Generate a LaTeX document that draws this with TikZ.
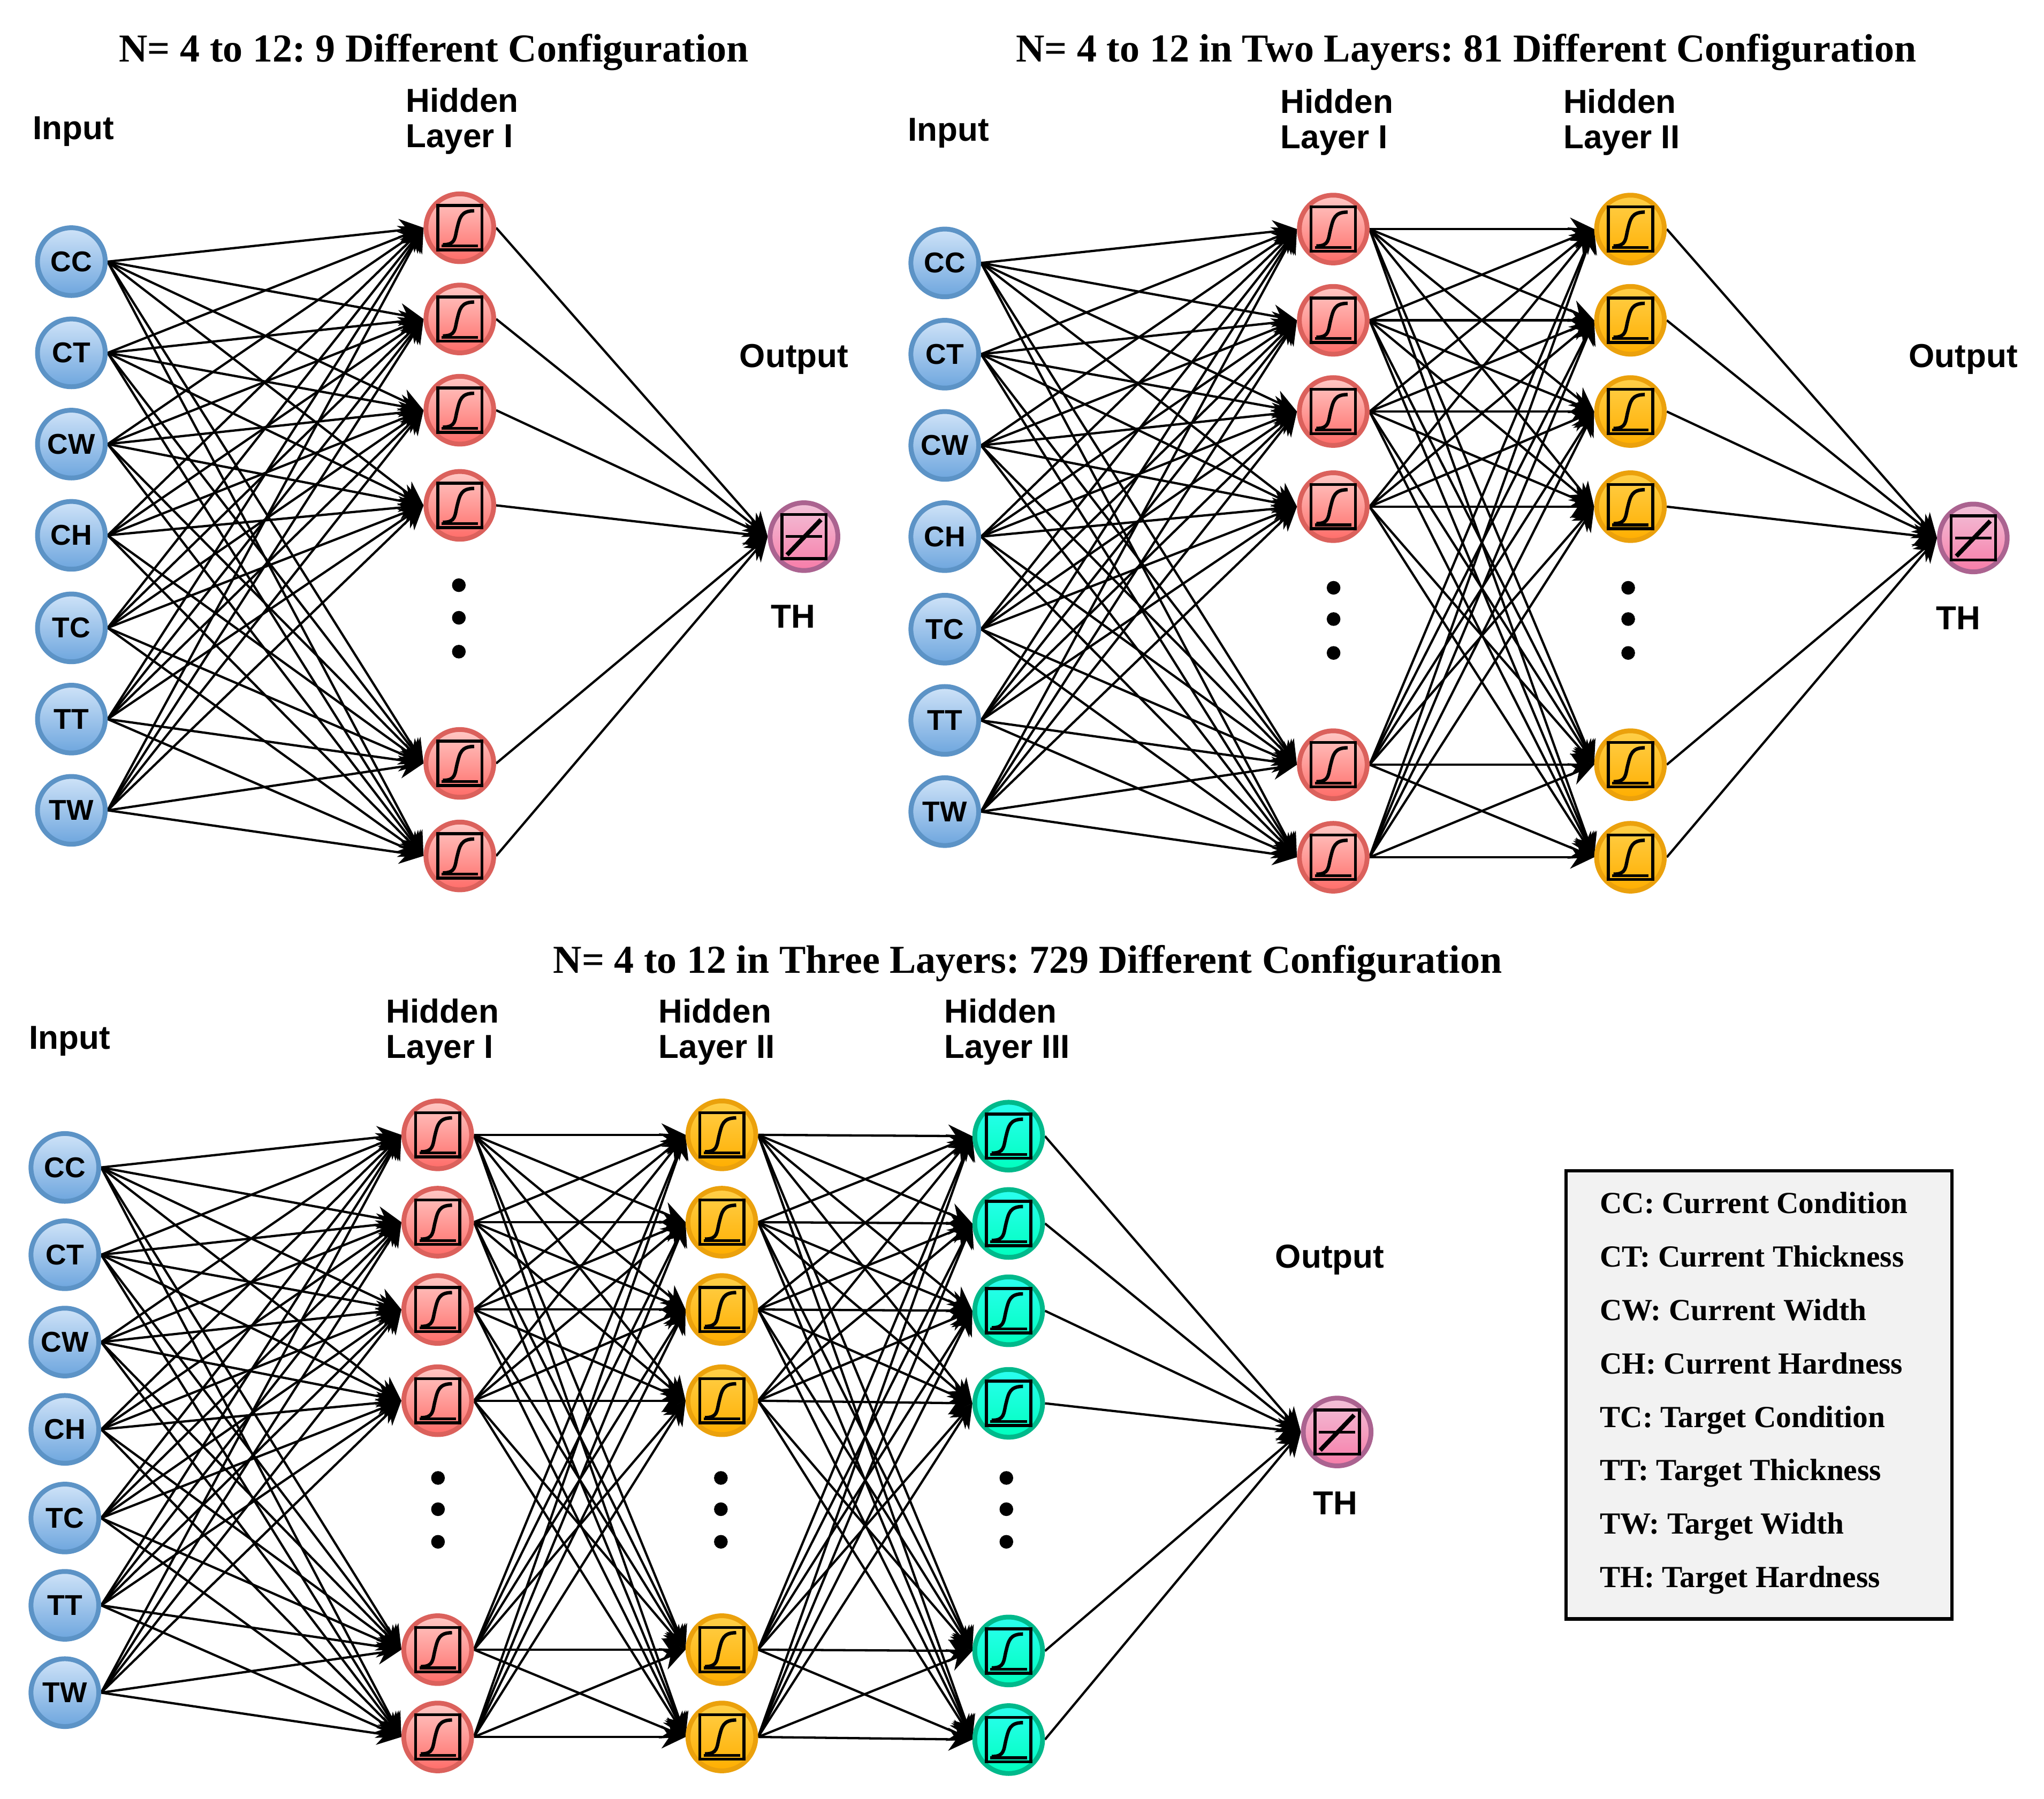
\documentclass[tikz,border=0pt]{standalone}
\usepackage{fontspec}
\setmainfont{Liberation Sans}
\newfontfamily\timesf{Liberation Serif}
\usetikzlibrary{arrows.meta}
\frenchspacing
\pgfdeclarelayer{bg}
\pgfsetlayers{bg,main}
\definecolor{blueb}{HTML}{5C93C6}
\definecolor{bluet}{HTML}{CFE3F8}
\definecolor{blueo}{HTML}{6EA6DE}
\definecolor{redb}{HTML}{DB615C}
\definecolor{redt}{HTML}{FFC9C6}
\definecolor{redo}{HTML}{FF6C68}
\definecolor{orab}{HTML}{EBA10C}
\definecolor{orat}{HTML}{FFD04A}
\definecolor{orao}{HTML}{FFAE00}
\definecolor{teab}{HTML}{00B98B}
\definecolor{teat}{HTML}{2BFFF0}
\definecolor{teao}{HTML}{00FFBE}
\definecolor{pinb}{HTML}{AB6390}
\definecolor{pint}{HTML}{F2C2D9}
\definecolor{pino}{HTML}{F77CA8}
\tikzset{
  neuron/.style={circle,minimum size=1.04cm,inner sep=0pt,line width=2.1pt,xshift=0.015cm,yshift=-0.015cm},
  inp/.style={neuron,draw=blueb,top color=bluet,bottom color=blueo,font=\fontsize{12.5}{13}\selectfont\bfseries},
  hred/.style={neuron,draw=redb,top color=redt,bottom color=redo},
  hora/.style={neuron,draw=orab,top color=orat,bottom color=orao},
  htea/.style={neuron,draw=teab,top color=teat,bottom color=teao},
  outn/.style={neuron,draw=pinb,top color=pint,bottom color=pino},
  conn/.style={line width=1pt,-{Stealth[length=10.5pt,width=10pt]}},
  lab/.style={inner sep=0pt,anchor=base west,font=\fontsize{14.5}{15}\selectfont\bfseries},
  ttl/.style={inner sep=0pt,anchor=base west,font=\timesf\fontsize{17.3}{18}\selectfont\bfseries},
  leg/.style={inner sep=0pt,anchor=base west,font=\timesf\fontsize{13.4}{14}\selectfont\bfseries},
  sigicon/.pic={
    \draw[line width=1.3pt] (-17,-17) rectangle (17,17);
    \draw[line width=1.2pt] (-14,14) -- (14,14);
    \draw[line width=1.5pt] (-13,13) .. controls (-3,13) and (-4,8) .. (-2,0)
       .. controls (0,-8) and (1,-13) .. (11,-13);
  },
  linicon/.pic={
    \draw[line width=1.3pt] (-17,-17) rectangle (17,17);
    \draw[line width=1.2pt] (-14,0) -- (14,0);
    \draw[line width=1.9pt] (-13,14) -- (13,-13);
  }
}
% prefix, x, list i/y/text
\newcommand{\InCol}[3]{\foreach \i/\yy/\tt in {#3} \node[inp] (#1\i) at (#2,\yy) {\tt};}
% prefix, x, style, list i/y
\newcommand{\HidCol}[4]{\foreach \i/\yy in {#4} {\node[#3] (#1\i) at (#2,\yy) {}; \path (#1\i) pic {sigicon};}}
\newcommand{\Dots}[4]{\foreach \yy in {#2,#3,#4} \fill (#1,\yy) circle[radius=0.105cm];}
% left prefix, left count, right prefix
\newcommand{\Link}[3]{\begin{pgfonlayer}{bg}\foreach \a in {1,...,#2} \foreach \b in {1,...,6} \draw[conn] (#1\a.east) -- (#3\b.west);\end{pgfonlayer}}
\newcommand{\ToOut}[2]{\begin{pgfonlayer}{bg}\foreach \a in {1,...,6} \draw[conn] (#1\a.east) -- (#2.west);\end{pgfonlayer}}
\begin{document}
\begin{tikzpicture}[x=0.02cm,y=-0.02cm]
\useasboundingbox (0,0) rectangle (1568,1380);
% Panel A
\node[ttl] (ta) at (91,47.5) {N= 4 to 12: 9 Different Configuration};
\node[lab] (ia) at (25,107) {Input};
\node[lab] (ha1) at (311,86) {Hidden};
\node[lab] (ha2) at (311,113) {Layer I};
\node[lab] (oa) at (567,282) {Output};
\node[lab] (tha) at (591,482) {TH};
\InCol{Ai}{54}{1/200/CC,2/270/CT,3/340/CW,4/410/CH,5/481/TC,6/551/TT,7/621/TW}
\HidCol{Ah}{352}{hred}{1/174,2/244,3/314,4/387,5/585,6/656}
\Dots{352}{449}{474}{500}
\node[outn] (Ao) at (616,411) {};
\path (Ao) pic {linicon};
\Link{Ai}{7}{Ah}
\ToOut{Ah}{Ao}
% Panel B
\node[ttl] (tb) at (779,47.5) {N= 4 to 12 in Two Layers: 81 Different Configuration};
\node[lab] (ib) at (696,108) {Input};
\node[lab] (hb1) at (982,87) {Hidden};
\node[lab] (hb2) at (982,114) {Layer I};
\node[lab] (hb3) at (1199,87) {Hidden};
\node[lab] (hb4) at (1199,114) {Layer II};
\node[lab] (ob) at (1464,282) {Output};
\node[lab] (thb) at (1485,483) {TH};
\InCol{Bi}{724}{1/201/CC,2/271/CT,3/341/CW,4/411/CH,5/482/TC,6/552/TT,7/622/TW}
\HidCol{Bh}{1022}{hred}{1/175,2/245,3/315,4/388,5/586,6/657}
\HidCol{Bk}{1250}{hora}{1/175,2/245,3/315,4/388,5/586,6/657}
\Dots{1023}{451}{475}{501}
\Dots{1249}{451}{475}{501}
\node[outn] (Bo) at (1513,412) {};
\path (Bo) pic {linicon};
\Link{Bi}{7}{Bh}
\Link{Bh}{6}{Bk}
\ToOut{Bk}{Bo}
% Panel C
\node[ttl] (tc) at (424,746.5) {N= 4 to 12 in Three Layers: 729 Different Configuration};
\node[lab] (ic) at (22,805) {Input};
\node[lab] (hc1) at (296,785) {Hidden};
\node[lab] (hc2) at (296,812) {Layer I};
\node[lab] (hc3) at (505,785) {Hidden};
\node[lab] (hc4) at (505,812) {Layer II};
\node[lab] (hc5) at (724,785) {Hidden};
\node[lab] (hc6) at (724,812) {Layer III};
\node[lab] (oc) at (978,973) {Output};
\node[lab] (thc) at (1007,1162) {TH};
\InCol{Ci}{49}{1/895/CC,2/962/CT,3/1029/CW,4/1096/CH,5/1164/TC,6/1231/TT,7/1298/TW}
\HidCol{Ch}{335}{hred}{1/870,2/937,3/1004,4/1074,5/1265,6/1332}
\HidCol{Ck}{553}{hora}{1/870,2/937,3/1004,4/1074,5/1265,6/1332}
\HidCol{Cm}{773}{htea}{1/871,2/938,3/1005,4/1076,5/1266,6/1334}
\Dots{336}{1134}{1158}{1183}
\Dots{553}{1134}{1158}{1183}
\Dots{772}{1134}{1158}{1183}
\node[outn] (Co) at (1025,1098) {};
\path (Co) pic {linicon};
\Link{Ci}{7}{Ch}
\Link{Ch}{6}{Ck}
\Link{Ck}{6}{Cm}
\ToOut{Cm}{Co}
% Legend
\node[draw=black,line width=1.5pt,fill=black!5,minimum width=5.92cm,minimum height=6.88cm,inner sep=0pt,anchor=north west] (legbox) at (1200,897) {};
\foreach \i/\yy/\tt in {1/931/{CC: Current Condition},2/972/{CT: Current Thickness},3/1013/{CW: Current Width},4/1054/{CH: Current Hardness},5/1095/{TC: Target Condition},6/1136/{TT: Target Thickness},7/1177/{TW: Target Width},8/1218/{TH: Target Hardness}}
  \node[leg] (leg\i) at (1227,\yy) {\tt};
\end{tikzpicture}
\end{document}
